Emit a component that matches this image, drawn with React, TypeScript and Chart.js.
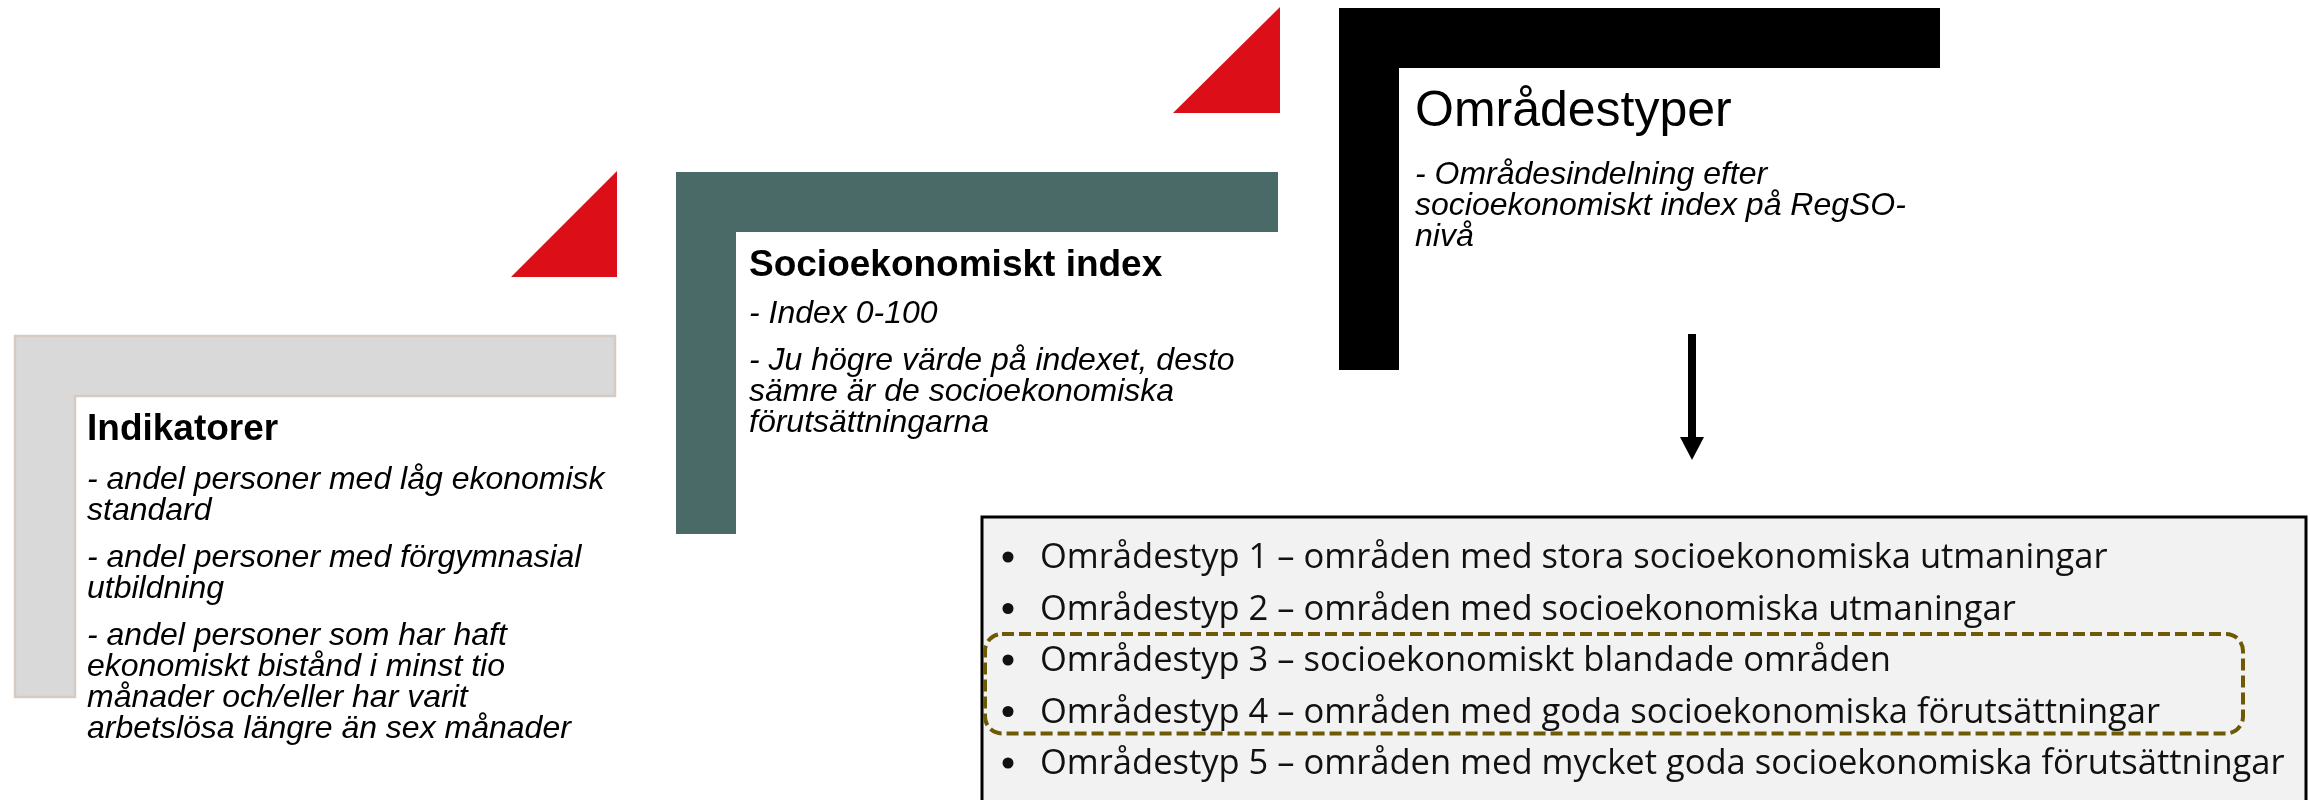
import React, { useEffect, useRef } from "react";
import { Chart, registerables } from "chart.js";
Chart.register(...registerables);

// ---- content ----
const indicatorTitle = "Indikatorer";
const indicatorParagraphs = [
  ["- andel personer med låg ekonomisk", "standard"],
  ["- andel personer med förgymnasial", "utbildning"],
  [
    "- andel personer som har haft",
    "ekonomiskt bistånd i minst tio",
    "månader och/eller har varit",
    "arbetslösa längre än sex månader",
  ],
];
const indexTitle = "Socioekonomiskt index";
const indexParagraphs = [
  ["- Index 0-100"],
  ["- Ju högre värde på indexet, desto", "sämre är de socioekonomiska", "förutsättningarna"],
];
const typesTitle = "Områdestyper";
const typesParagraphs = [["- Områdesindelning efter", "socioekonomiskt index på RegSO-", "nivå"]];
const areaTypes = [
  "Områdestyp 1 – områden med stora socioekonomiska utmaningar",
  "Områdestyp 2 – områden med socioekonomiska utmaningar",
  "Områdestyp 3 – socioekonomiskt blandade områden",
  "Områdestyp 4 – områden med goda socioekonomiska förutsättningar",
  "Områdestyp 5 – områden med mycket goda socioekonomiska förutsättningar",
];
const highlightedTypes = [3, 4];

// ---- layout (diagram units = pixels of 2310x800 frame) ----
const W = 2310;
const H = 800;
const BAND = 60;
const panels = [
  { x0: 15, y0: 336, x1: 615, y1: 697, fill: "#d9d9d9", stroke: "#d6cbc2", title: indicatorTitle, paras: indicatorParagraphs, tx: 87, titleY: 440, bodyY: 489, titleFont: 'bold 37px "Liberation Sans"' },
  { x0: 676, y0: 172, x1: 1278, y1: 534, fill: "#4a6a67", stroke: null, title: indexTitle, paras: indexParagraphs, tx: 749, titleY: 276, bodyY: 323, titleFont: 'bold 37px "Liberation Sans"' },
  { x0: 1339, y0: 8, x1: 1940, y1: 370, fill: "#000000", stroke: null, title: typesTitle, paras: typesParagraphs, tx: 1415, titleY: 126, bodyY: 184, titleFont: '50px "Liberation Sans"' },
];
const triangles = [
  { x0: 511, x1: 617, yTop: 171, yBot: 277 },
  { x0: 1173, x1: 1280, yTop: 7, yBot: 113 },
];
const LINE_H = 31;
const PARA_GAP = 16;
const BODY_FONT = 'italic 32px "Liberation Sans"';

const box = { x0: 982, y0: 517, x1: 2306, y1: 803 };
const listX = 1040;
const bulletX = 1008;
const listY0 = 568;
const listStep = 51.5;
const LIST_FONT = '500 34.5px "Open Sans"';

const diagramPlugin = {
  id: "diagram",
  afterDraw(chart: any) {
    const ctx = chart.ctx as CanvasRenderingContext2D;
    const sx = chart.scales.x;
    const sy = chart.scales.y;
    const X = (v: number) => sx.getPixelForValue(v);
    const Y = (v: number) => sy.getPixelForValue(v);
    ctx.save();

    // L-shaped panels
    panels.forEach((p) => {
      const pts = [
        [p.x0, p.y0], [p.x1, p.y0], [p.x1, p.y0 + BAND], [p.x0 + BAND, p.y0 + BAND], [p.x0 + BAND, p.y1], [p.x0, p.y1],
      ];
      ctx.beginPath();
      pts.forEach(([a, b], i) => (i ? ctx.lineTo(X(a), Y(b)) : ctx.moveTo(X(a), Y(b))));
      ctx.closePath();
      ctx.fillStyle = p.fill;
      ctx.fill();
      if (p.stroke) {
        ctx.strokeStyle = p.stroke;
        ctx.lineWidth = 2.5;
        ctx.stroke();
      }
      ctx.fillStyle = "#000";
      ctx.textBaseline = "alphabetic";
      ctx.textAlign = "left";
      ctx.font = p.titleFont;
      ctx.fillText(p.title, X(p.tx), Y(p.titleY));
      ctx.font = BODY_FONT;
      let y = p.bodyY;
      p.paras.forEach((para) => {
        para.forEach((line) => {
          ctx.fillText(line, X(p.tx), Y(y));
          y += LINE_H;
        });
        y += PARA_GAP;
      });
    });

    // red triangles
    ctx.fillStyle = "#dc0f18";
    triangles.forEach((t) => {
      ctx.beginPath();
      ctx.moveTo(X(t.x0), Y(t.yBot));
      ctx.lineTo(X(t.x1), Y(t.yBot));
      ctx.lineTo(X(t.x1), Y(t.yTop));
      ctx.closePath();
      ctx.fill();
    });

    // arrow
    ctx.fillStyle = "#000";
    ctx.fillRect(X(1688), Y(334), X(1696) - X(1688), Y(440) - Y(334));
    ctx.beginPath();
    ctx.moveTo(X(1680), Y(437));
    ctx.lineTo(X(1704), Y(437));
    ctx.lineTo(X(1692), Y(460));
    ctx.closePath();
    ctx.fill();

    // list box
    ctx.fillStyle = "#f2f2f2";
    ctx.fillRect(X(box.x0), Y(box.y0), X(box.x1) - X(box.x0), Y(box.y1) - Y(box.y0));
    ctx.strokeStyle = "#000";
    ctx.lineWidth = 3;
    ctx.strokeRect(X(box.x0), Y(box.y0), X(box.x1) - X(box.x0), Y(box.y1) - Y(box.y0));

    ctx.font = LIST_FONT;
    areaTypes.forEach((txt, i) => {
      const by = listY0 + i * listStep;
      ctx.fillStyle = "#111111";
      ctx.beginPath();
      ctx.arc(X(bulletX), Y(by - 11), 5.5, 0, Math.PI * 2);
      ctx.fill();
      ctx.fillText(txt, X(listX), Y(by));
    });

    // dashed highlight
    const first = highlightedTypes[0] - 1;
    const last = highlightedTypes[highlightedTypes.length - 1] - 1;
    const hy0 = listY0 + first * listStep - 37;
    const hy1 = listY0 + last * listStep + 11;
    ctx.strokeStyle = "#6e5a05";
    ctx.lineWidth = 4;
    ctx.setLineDash([12, 5]);
    ctx.beginPath();
    (ctx as any).roundRect(X(985), Y(hy0), X(2243) - X(985), Y(hy1) - Y(hy0), 17);
    ctx.stroke();
    ctx.setLineDash([]);

    ctx.restore();
  },
};

export default function App() {
  const ref = useRef<HTMLCanvasElement>(null);
  useEffect(() => {
    document.body.style.margin = "0";
    const chart = new Chart(ref.current!, {
      type: "scatter",
      data: { datasets: [{ data: [], pointRadius: 0 }] },
      options: {
        animation: false,
        responsive: false,
        devicePixelRatio: 1,
        layout: { padding: 0 },
        plugins: { legend: { display: false }, tooltip: { enabled: false } },
        scales: {
          x: { type: "linear", min: 0, max: W, display: false },
          y: { type: "linear", min: 0, max: H, reverse: true, display: false },
        },
      },
      plugins: [diagramPlugin],
    });
    return () => chart.destroy();
  }, []);
  return (
    <div style={{ position: "fixed", left: 0, top: 0, width: W, height: H, background: "#fff" }}>
      <canvas ref={ref} width={W} height={H} style={{ width: W, height: H }} />
    </div>
  );
}
